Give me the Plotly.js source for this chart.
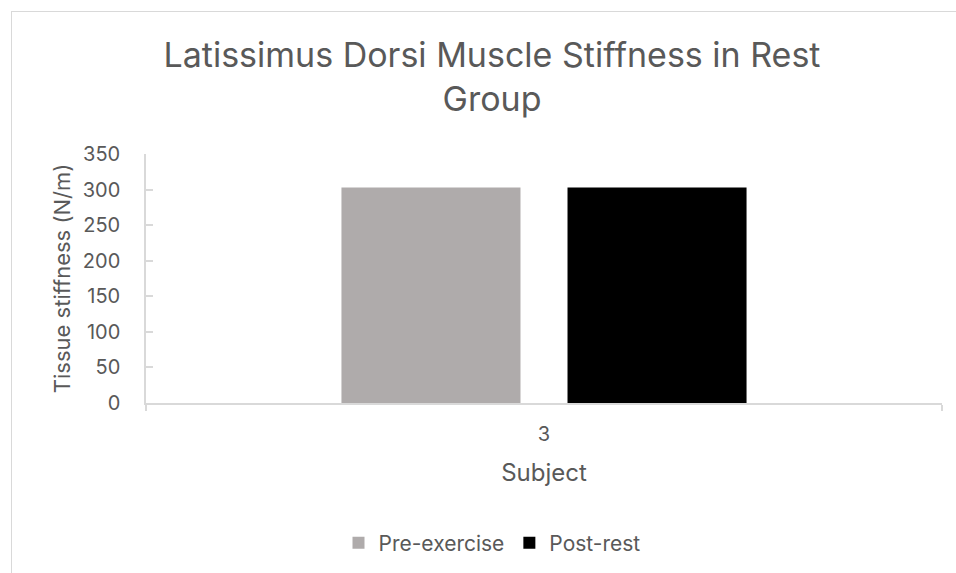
<!DOCTYPE html>
<html>
<head>
<meta charset="utf-8">
<script src="https://cdn.plot.ly/plotly-3.0.1.min.js"></script>
<style>
  html, body { margin: 0; padding: 0; background: #ffffff; }
  #frame { position: absolute; left: 11px; top: 11px; width: 1200px; height: 1200px;
           border-top: 1px solid #d9d9d9; border-left: 1px solid #d9d9d9; box-sizing: border-box; }
  #chart { position: absolute; left: 0; top: 0; width: 956px; height: 573px; }
</style>
</head>
<body>
<div id="frame"></div>
<div id="chart"></div>
<script>
const categories = ["3"];
const seriesNames = ["Pre-exercise", "Post-rest"];
const preExercise = [303];
const postRest = [303];
const yTicks = [0, 50, 100, 150, 200, 250, 300, 350];

const FONT = "Inter, Liberation Sans, Arial, sans-serif";
const TXT = "#595959";

const traces = [
  { type: "bar", name: seriesNames[0], x: categories, y: preExercise,
    marker: { color: "#afabab" }, hoverinfo: "y" },
  { type: "bar", name: seriesNames[1], x: categories, y: postRest,
    marker: { color: "#000000" }, hoverinfo: "y" }
];

const layout = {
  width: 956, height: 573,
  paper_bgcolor: "rgba(0,0,0,0)", plot_bgcolor: "rgba(0,0,0,0)",
  margin: { l: 146, r: 14, t: 154, b: 170 },
  font: { family: FONT, color: TXT, size: 20 },
  title: {
    text: "Latissimus Dorsi Muscle Stiffness in Rest<br>Group",
    font: { family: FONT, size: 34, color: TXT },
    xref: "container", x: 492 / 956, xanchor: "center",
    yref: "container", y: 1 - 67 / 573, yanchor: "top"
  },
  barmode: "group",
  bargap: 0.432,
  bargroupgap: 0.208,
  xaxis: {
    type: "category",
    showline: true, linecolor: "#d9d9d9", linewidth: 1.5,
    ticks: "outside", tickson: "boundaries", ticklen: 6, tickcolor: "#d9d9d9", tickwidth: 1.5,
    tickfont: { family: FONT, size: 20, color: TXT },
    ticklabelstandoff: 12,
    showgrid: false, zeroline: false,
    title: { text: "Subject", font: { family: FONT, size: 24, color: TXT }, standoff: 19 }
  },
  yaxis: {
    range: [0, 350], tickvals: yTicks, ticktext: yTicks.map(String),
    showline: true, linecolor: "#d9d9d9", linewidth: 1.5,
    ticks: "inside", ticklen: 7, tickcolor: "#d9d9d9", tickwidth: 1.5,
    tickfont: { family: FONT, size: 20, color: TXT },
    ticklabelstandoff: 20,
    showgrid: false, zeroline: false,
    title: { text: "Tissue stiffness (N/m)", font: { family: FONT, size: 22, color: TXT }, standoff: 6 }
  },
  legend: {
    orientation: "h",
    xref: "container", x: 492 / 956, xanchor: "center",
    yref: "container", y: 1 - 543 / 573, yanchor: "middle",
    font: { family: FONT, size: 21, color: TXT },
    itemwidth: 30, traceorder: "normal"
  },
  showlegend: true
};

Plotly.newPlot("chart", traces, layout, { displayModeBar: false, responsive: false });
</script>
</body>
</html>
